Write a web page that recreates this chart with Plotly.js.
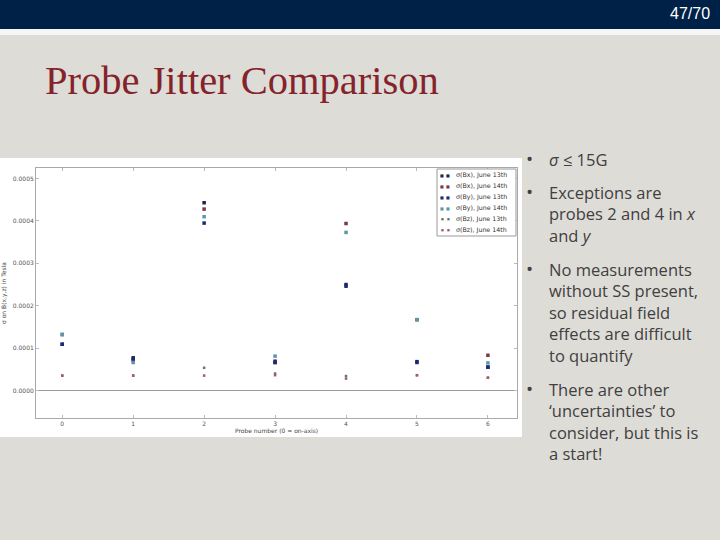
<!DOCTYPE html>
<html><head><meta charset="utf-8">
<script src="https://cdn.plot.ly/plotly-3.0.1.min.js"></script>
<style>html,body{margin:0;padding:0;background:#dedcd7;}#chart{width:720px;height:540px;}</style>
</head><body><div id="chart"></div>
<script>
const probes = [0, 1, 2, 3, 4, 5, 6];
const bx13 = [1.09e-4, 7.7e-5, 4.43e-4, 6.9e-5, 2.50e-4, 6.8e-5, 5.5e-5];
const bx14 = [1.32e-4, 7.1e-5, 4.28e-4, 6.6e-5, 3.94e-4, 1.67e-4, 8.3e-5];
const by13 = [1.09e-4, 7.4e-5, 3.95e-4, 6.6e-5, 2.46e-4, 6.6e-5, 5.5e-5];
const by14 = [1.32e-4, 6.6e-5, 4.10e-4, 8.1e-5, 3.73e-4, 1.67e-4, 6.5e-5];
const bz13 = [3.5e-5, 3.5e-5, 5.35e-5, 4.0e-5, 3.4e-5, 3.6e-5, 3.0e-5];
const bz14 = [3.5e-5, 3.5e-5, 3.5e-5, 3.6e-5, 2.8e-5, 3.6e-5, 3.0e-5];
const seriesNames = ["σ(Bx), June 13th", "σ(Bx), June 14th", "σ(By), June 13th", "σ(By), June 14th", "σ(Bz), June 13th", "σ(Bz), June 14th"];
const yTicks = [0, 0.0001, 0.0002, 0.0003, 0.0004, 0.0005];
const bullets = [
  "<i>σ</i> ≤ 15G",
  "Exceptions are<br>probes 2 and 4 in <i>x</i><br>and <i>y</i>",
  "No measurements<br>without SS present,<br>so residual field<br>effects are difficult<br>to quantify",
  "There are other<br>‘uncertainties’ to<br>consider, but this is<br>a start!"
];
const bulletY = [159, 192, 269, 389];

const vals = [bx13, bx14, by13, by14, bz13, bz14];
const colors = ["#1c2550", "#7a3848", "#1a2a78", "#5a98a8", "#707070", "#a05a68"];
const sizes = [3.5, 3.5, 3.5, 3.5, 2.5, 2.5];
const traces = vals.map((v, i) => ({
  x: probes, y: v, type: "scatter", mode: "markers", name: seriesNames[i], showlegend: false,
  marker: {color: colors[i], size: sizes[i], symbol: "square"}
}));

const W = 720, H = 540;
const px = x => x / W, py = y => 1 - y / H;
const annotations = [
  {text: "Probe Jitter Comparison", x: px(43), y: py(80), xref: "paper", yref: "paper", xanchor: "left", yanchor: "middle", showarrow: false,
   font: {family: "Liberation Serif, DejaVu Serif, serif", size: 40.5, color: "#84232a"}},
  {text: "47/70", x: px(712), y: py(14), xref: "paper", yref: "paper", xanchor: "right", yanchor: "middle", showarrow: false,
   font: {family: "Liberation Sans Narrow, Liberation Sans, sans-serif", size: 16, color: "#ffffff"}}
];
bullets.forEach((t, i) => {
  annotations.push({text: "•", x: px(524), y: py(bulletY[i]), xref: "paper", yref: "paper", xanchor: "left", yanchor: "middle", showarrow: false,
    font: {family: "Open Sans, sans-serif", size: 19, color: "#404040"}});
  annotations.push({text: t, x: px(547), y: py(bulletY[i] - 13), xref: "paper", yref: "paper", xanchor: "left", yanchor: "top", align: "left", showarrow: false,
    font: {family: "Open Sans, sans-serif", size: 16.5, color: "#404040"}});
});
// custom compact legend
seriesNames.forEach((n, i) => {
  const yy = py(175 + i * 11);
  annotations.push({text: "■", x: px(442), y: yy, xref: "paper", yref: "paper", xanchor: "center", yanchor: "middle", showarrow: false,
    font: {family: "DejaVu Sans, sans-serif", size: i < 4 ? 4 : 3, color: colors[i]}});
  annotations.push({text: "■", x: px(448), y: yy, xref: "paper", yref: "paper", xanchor: "center", yanchor: "middle", showarrow: false,
    font: {family: "DejaVu Sans, sans-serif", size: i < 4 ? 4 : 3, color: colors[i]}});
  annotations.push({text: n, x: px(454), y: yy, xref: "paper", yref: "paper", xanchor: "left", yanchor: "middle", showarrow: false,
    font: {family: "DejaVu Sans, sans-serif", size: 6.3, color: "#333"}});
});

const layout = {
  width: W, height: H,
  paper_bgcolor: "#dedcd7", plot_bgcolor: "#ffffff",
  margin: {l: 0, r: 0, t: 0, b: 0},
  showlegend: false,
  xaxis: {domain: [px(36), px(517)], range: [-0.37, 6.41], tickvals: probes, ticks: "inside", ticklen: 3, tickcolor: "#bbb",
    showline: true, mirror: "ticks", linecolor: "#aaa", linewidth: 1, showgrid: false, zeroline: false,
    tickfont: {family: "DejaVu Sans, sans-serif", size: 6, color: "#555"},
    title: {text: "Probe number (0 = on-axis)", standoff: 2, font: {family: "DejaVu Sans, sans-serif", size: 6, color: "#444"}}},
  yaxis: {domain: [py(418), py(168)], range: [-0.000065, 0.000525], tickvals: yTicks, tickformat: ".4f", ticks: "inside", ticklen: 3, tickcolor: "#bbb",
    showline: true, mirror: "ticks", linecolor: "#aaa", linewidth: 1, showgrid: false, zeroline: true, zerolinecolor: "#999", zerolinewidth: 1,
    tickfont: {family: "DejaVu Sans, sans-serif", size: 6, color: "#555"},
    title: {text: "σ on B(x,y,z) in Tesla", standoff: 6, font: {family: "DejaVu Sans, sans-serif", size: 6, color: "#444"}}},
  shapes: [
    {type: "rect", xref: "paper", yref: "paper", x0: 0, x1: 1, y0: py(29), y1: 1, fillcolor: "#002147", line: {width: 0}, layer: "below"},
    {type: "rect", xref: "paper", yref: "paper", x0: 0, x1: 1, y0: py(35), y1: py(29), fillcolor: "#f6f6f4", line: {width: 0}, layer: "below"},
    {type: "rect", xref: "paper", yref: "paper", x0: 0, x1: px(522), y0: py(437), y1: py(158), fillcolor: "#ffffff", line: {width: 0}, layer: "below"},
    {type: "rect", xref: "paper", yref: "paper", x0: px(437), x1: px(516), y0: py(236), y1: py(169), fillcolor: "#ffffff", line: {width: 1, color: "#999"}, layer: "above"}
  ],
  annotations: annotations
};
Plotly.newPlot("chart", traces, layout, {displayModeBar: false, staticPlot: true});
</script></body></html>
